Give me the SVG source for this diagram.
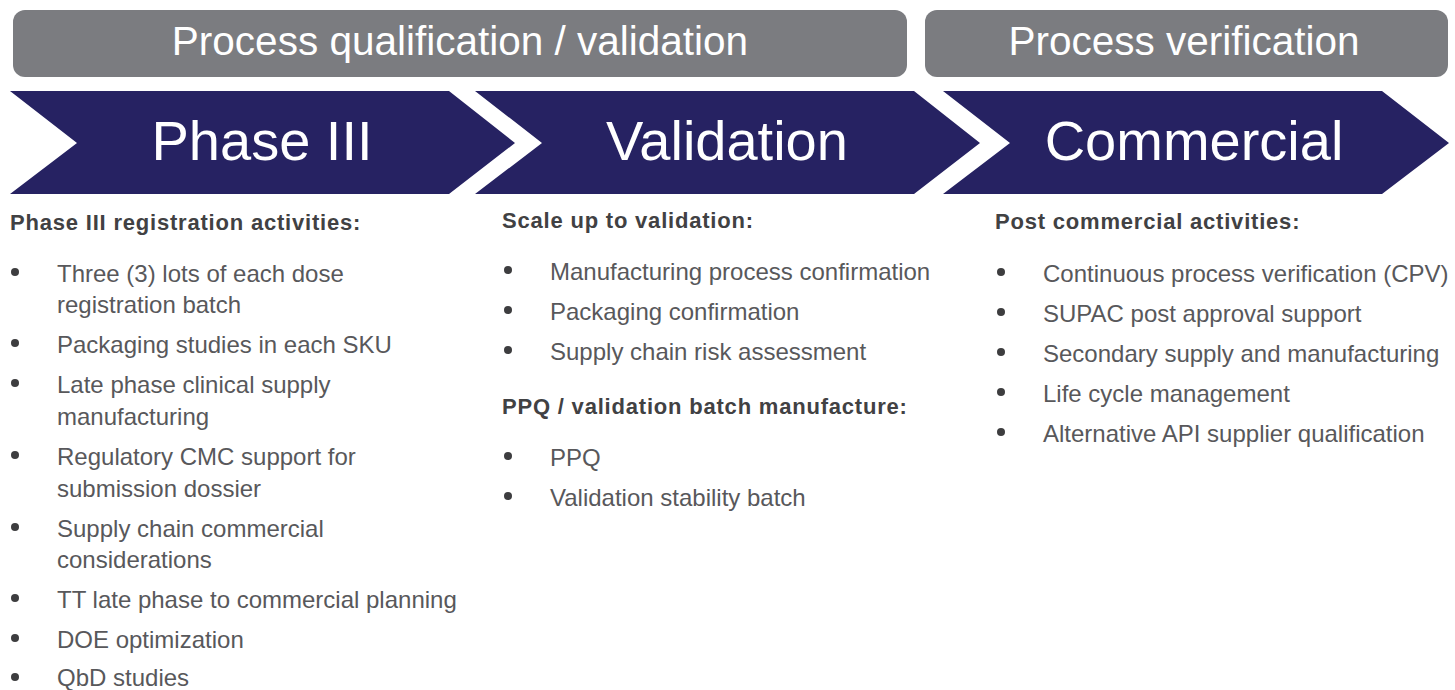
<svg xmlns="http://www.w3.org/2000/svg" width="1455" height="690" viewBox="0 0 1455 690">
<style>
.band{fill:#7b7c80}
.bandtxt{font-family:"Liberation Sans",Arial,sans-serif;font-size:40.5px;fill:#ffffff}
.chev{fill:#262262}
.chevtxt{font-family:"Liberation Sans",Arial,sans-serif;font-size:56px;fill:#ffffff;text-anchor:middle}
.head{font-family:"Liberation Sans",Arial,sans-serif;font-size:22px;font-weight:bold;fill:#414143;letter-spacing:0.8px}
.item{font-family:"Liberation Sans",Arial,sans-serif;font-size:24px;fill:#58585b}
.dot{fill:#3d3d3f}
</style>
<rect width="1455" height="690" fill="#ffffff"/>
<g id="band-qualification">
<rect class="band" x="13" y="10" width="894" height="67" rx="12"/>
<text class="bandtxt" x="460" y="55" text-anchor="middle">Process qualification / validation</text>
</g>
<g id="band-verification">
<rect class="band" x="925" y="10" width="523" height="67" rx="12"/>
<text class="bandtxt" x="1184" y="55" text-anchor="middle">Process verification</text>
</g>
<g id="chevron-phase3">
<polygon class="chev" points="10,91 449,91 515,143 449,194 10,194 77,143"/>
<text class="chevtxt" x="262" y="160">Phase III</text>
</g>
<g id="chevron-validation">
<polygon class="chev" points="475,91 914,91 980,143 914,194 475,194 542,143"/>
<text class="chevtxt" x="727" y="160">Validation</text>
</g>
<g id="chevron-commercial">
<polygon class="chev" points="943,91 1382,91 1449,143 1382,194 943,194 1010,143"/>
<text class="chevtxt" x="1194" y="160">Commercial</text>
</g>
<g id="connectors"></g>
<g id="list-phase3">
<text class="head" x="10" y="230">Phase III registration activities:</text>
<circle class="dot" cx="15" cy="272" r="4"/>
<text class="item" x="57" y="282">Three (3) lots of each dose</text>
<text class="item" x="57" y="313">registration batch</text>
<circle class="dot" cx="15" cy="343" r="4"/>
<text class="item" x="57" y="353">Packaging studies in each SKU</text>
<circle class="dot" cx="15" cy="383" r="4"/>
<text class="item" x="57" y="393">Late phase clinical supply</text>
<text class="item" x="57" y="425">manufacturing</text>
<circle class="dot" cx="15" cy="455" r="4"/>
<text class="item" x="57" y="465">Regulatory CMC support for</text>
<text class="item" x="57" y="497">submission dossier</text>
<circle class="dot" cx="15" cy="527" r="4"/>
<text class="item" x="57" y="537">Supply chain commercial</text>
<text class="item" x="57" y="568">considerations</text>
<circle class="dot" cx="15" cy="598" r="4"/>
<text class="item" x="57" y="608">TT late phase to commercial planning</text>
<circle class="dot" cx="15" cy="638" r="4"/>
<text class="item" x="57" y="648">DOE optimization</text>
<circle class="dot" cx="15" cy="677" r="4"/>
<text class="item" x="57" y="686">QbD studies</text>
</g>
<g id="list-validation">
<text class="head" x="502" y="228">Scale up to validation:</text>
<circle class="dot" cx="508" cy="270" r="4"/>
<text class="item" x="550" y="280">Manufacturing process confirmation</text>
<circle class="dot" cx="508" cy="310" r="4"/>
<text class="item" x="550" y="320">Packaging confirmation</text>
<circle class="dot" cx="508" cy="350" r="4"/>
<text class="item" x="550" y="360">Supply chain risk assessment</text>
<text class="head" x="502" y="414">PPQ / validation batch manufacture:</text>
<circle class="dot" cx="508" cy="456" r="4"/>
<text class="item" x="550" y="466">PPQ</text>
<circle class="dot" cx="508" cy="496" r="4"/>
<text class="item" x="550" y="506">Validation stability batch</text>
</g>
<g id="list-commercial">
<text class="head" x="995" y="229">Post commercial activities:</text>
<circle class="dot" cx="1001" cy="272" r="4"/>
<text class="item" x="1043" y="282">Continuous process verification (CPV)</text>
<circle class="dot" cx="1001" cy="312" r="4"/>
<text class="item" x="1043" y="322">SUPAC post approval support</text>
<circle class="dot" cx="1001" cy="352" r="4"/>
<text class="item" x="1043" y="362">Secondary supply and manufacturing</text>
<circle class="dot" cx="1001" cy="392" r="4"/>
<text class="item" x="1043" y="402">Life cycle management</text>
<circle class="dot" cx="1001" cy="432" r="4"/>
<text class="item" x="1043" y="442">Alternative API supplier qualification</text>
</g>
</svg>
